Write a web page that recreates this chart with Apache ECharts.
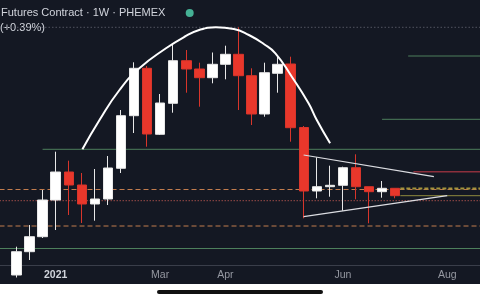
<!DOCTYPE html>
<html><head><meta charset="utf-8">
<script src="https://cdn.jsdelivr.net/npm/echarts@6/dist/echarts.min.js"></script>
<style>html,body{margin:0;padding:0;background:#141823;}#c{width:480px;height:300px;}</style>
</head><body><div id="c"></div>
<script>
// ---- data ----
const weeks = ['2020-12-14','2020-12-21','2020-12-28','2021-01-04','2021-01-11','2021-01-18','2021-01-25','2021-02-01','2021-02-08','2021-02-15','2021-02-22','2021-03-01','2021-03-08','2021-03-15','2021-03-22','2021-03-29','2021-04-05','2021-04-12','2021-04-19','2021-04-26','2021-05-03','2021-05-10','2021-05-17','2021-05-24','2021-05-31','2021-06-07','2021-06-14','2021-06-21','2021-06-28','2021-07-05','2021-07-12','2021-07-19','2021-07-26','2021-08-02','2021-08-09','2021-08-16'];
const opens  = [16000,20660,23660,31000,36600,34000,30200,31200,37340,47860,57340,44140,50340,58860,57200,55460,58140,60140,55860,48200,56340,58200,45500,32800,33660,33940,37460,33660,32660,33340];
const closes = [20660,23660,31000,36600,34000,30200,31200,37400,47860,57340,44200,50400,58860,57200,55460,58140,60140,55860,48200,56460,58140,45460,32800,33660,33940,37460,33660,32660,33340,31860];
const lows   = [15500,19000,23400,25000,28000,26400,26860,30000,36400,44400,41660,44000,48460,52460,49660,54340,55140,49000,46000,47660,52460,42660,27340,31340,31660,28860,31140,26340,31460,31340];
const highs  = [21660,26000,33000,40660,38860,36400,37200,39800,49000,58540,57800,52200,62140,61000,58460,60500,61860,65540,57340,58460,59660,59660,45800,39540,37860,37660,40140,33660,34800,33340];
const tickDates  = ['2021-01-04','2021-03-01','2021-04-05','2021-06-07','2021-08-02'];
const tickLabels = ['2021','Mar','Apr','Jun','Aug'];
// arc drawing (week index, price)
const arcIdx   = [5.05,6.36,7.89,9.41,11.45,12.84,13.99,15.26,16.65,17.8,18.94,19.83,21.1,22.37,23.0,24.02];
const arcPrice = [41140,47000,53000,57340,61340,63600,65000,65540,65200,64000,62200,60340,55600,50340,47000,42340];
// triangle drawing
const triUpperIdx = [21.99,31.97], triUpperPrice = [40000,35660];
const triLowerIdx = [21.99,32.99], triLowerPrice = [27660,31860];
// horizontal levels
const greenLevels = [41140,47140,59800,21300];
const greenStarts = [2,28,30,-1.3];
const tanDashedLevels = [33100,25800];
const redDottedLevel = 30860;
const highLevel = 65540;
const redLevel = 36660, redStart = 30.4;
const oliveDashedLevel = 33300, oliveSolidLevel = 31860, oliveStart = 29.4;

// ---- chart ----
const chart = echarts.init(document.getElementById('c'), null, {renderer:'canvas'});
const END = 35.6, BEGIN = -1.3;
function hline(p, from, color, type, width){
  return {type:'line', xAxisIndex:1, yAxisIndex:1, data:[[from,p],[END,p]], symbol:'none', silent:true,
    lineStyle:{color:color, type:type, width:width}, z:1};
}
const series = [];
greenLevels.forEach((p,i)=>series.push(hline(p, greenStarts[i], '#4d7f5c', 'solid', 1)));
tanDashedLevels.forEach(p=>series.push(hline(p, BEGIN, '#c27c4e', [5,3], 1)));
series.push(hline(redDottedLevel, BEGIN, '#9a4b48', [1.5,1.5], 1));
series.push(hline(highLevel, BEGIN, '#50545f', [1.5,2], 1));
series.push(hline(redLevel, redStart, '#8c2f3c', 'solid', 1.5));
series.push(hline(oliveDashedLevel, oliveStart, '#a4933c', [4,2], 2));
series.push(hline(oliveSolidLevel, oliveStart, '#8f8a3e', 'solid', 1));
series.push({type:'candlestick', xAxisIndex:0, yAxisIndex:0, barWidth:10, z:3,
  data: opens.map((o,i)=>[o, closes[i], lows[i], highs[i]]),
  itemStyle:{color:'#ffffff', color0:'#e9372b', borderColor:'#e8e8e8', borderColor0:'#d8352b', borderWidth:1}
});
series.push({type:'line', xAxisIndex:1, yAxisIndex:1, data: arcIdx.map((x,i)=>[x, arcPrice[i]]), smooth:0.5, symbol:'none', silent:true, z:4,
  lineStyle:{color:'#ffffff', width:2}});
series.push({type:'line', xAxisIndex:1, yAxisIndex:1, data: triUpperIdx.map((x,i)=>[x, triUpperPrice[i]]), symbol:'none', silent:true, z:4,
  lineStyle:{color:'#dcdde2', width:1.2}});
series.push({type:'line', xAxisIndex:1, yAxisIndex:1, data: triLowerIdx.map((x,i)=>[x, triLowerPrice[i]]), symbol:'none', silent:true, z:4,
  lineStyle:{color:'#dcdde2', width:1.2}});

chart.setOption({
  backgroundColor:'#141823',
  animation:false,
  grid:[{left:10, top:5, width:472.3, height:260},
        {left:0, top:5, width:482.3, height:260}],
  xAxis:[
    {type:'category', gridIndex:0, data:weeks, boundaryGap:true,
     axisLine:{show:false},
     axisTick:{show:false},
     splitLine:{show:false},
     axisLabel:{margin:5, fontSize:10.5, fontFamily:'Liberation Sans, Arial, sans-serif', color:'#9598a1',
       interval:(i, v)=>tickDates.indexOf(v) >= 0,
       formatter:(v)=>{const k=tickDates.indexOf(v); if(k<0) return ''; return k===0?'{b|'+tickLabels[k]+'}':tickLabels[k];},
       rich:{b:{fontWeight:'bold', color:'#d1d4dc', fontSize:10.5, fontFamily:'Liberation Sans, Arial, sans-serif'}}}
    },
    {type:'value', gridIndex:1, min:-1.262, max:35.5, show:true,
     axisLine:{show:true, onZero:false, lineStyle:{color:'#3a3e4a', width:1}},
     axisTick:{show:false}, axisLabel:{show:false}, splitLine:{show:false}}
  ],
  yAxis:[{type:'value', gridIndex:0, min:18000, max:70000, show:false, splitLine:{show:false}},
         {type:'value', gridIndex:1, min:18000, max:70000, show:false, splitLine:{show:false}}],
  series: series,
  graphic:[
    {type:'text', left:1, top:7, style:{text:'Futures Contract · 1W · PHEMEX', fill:'#d1d4dc', font:'11px "Liberation Sans", Arial, sans-serif'}},
    {type:'text', left:0, top:22, style:{text:'(+0.39%)', fill:'#d1d4dc', font:'11px "Liberation Sans", Arial, sans-serif'}},
    {type:'circle', shape:{cx:189.7, cy:13, r:4}, style:{fill:'#45b195'}},
    {type:'rect', shape:{x:0, y:284, width:480, height:16}, style:{fill:'#ffffff'}},
    {type:'rect', shape:{x:157, y:290, width:166, height:4, r:2}, style:{fill:'#111111'}}
  ]
});
</script></body></html>
